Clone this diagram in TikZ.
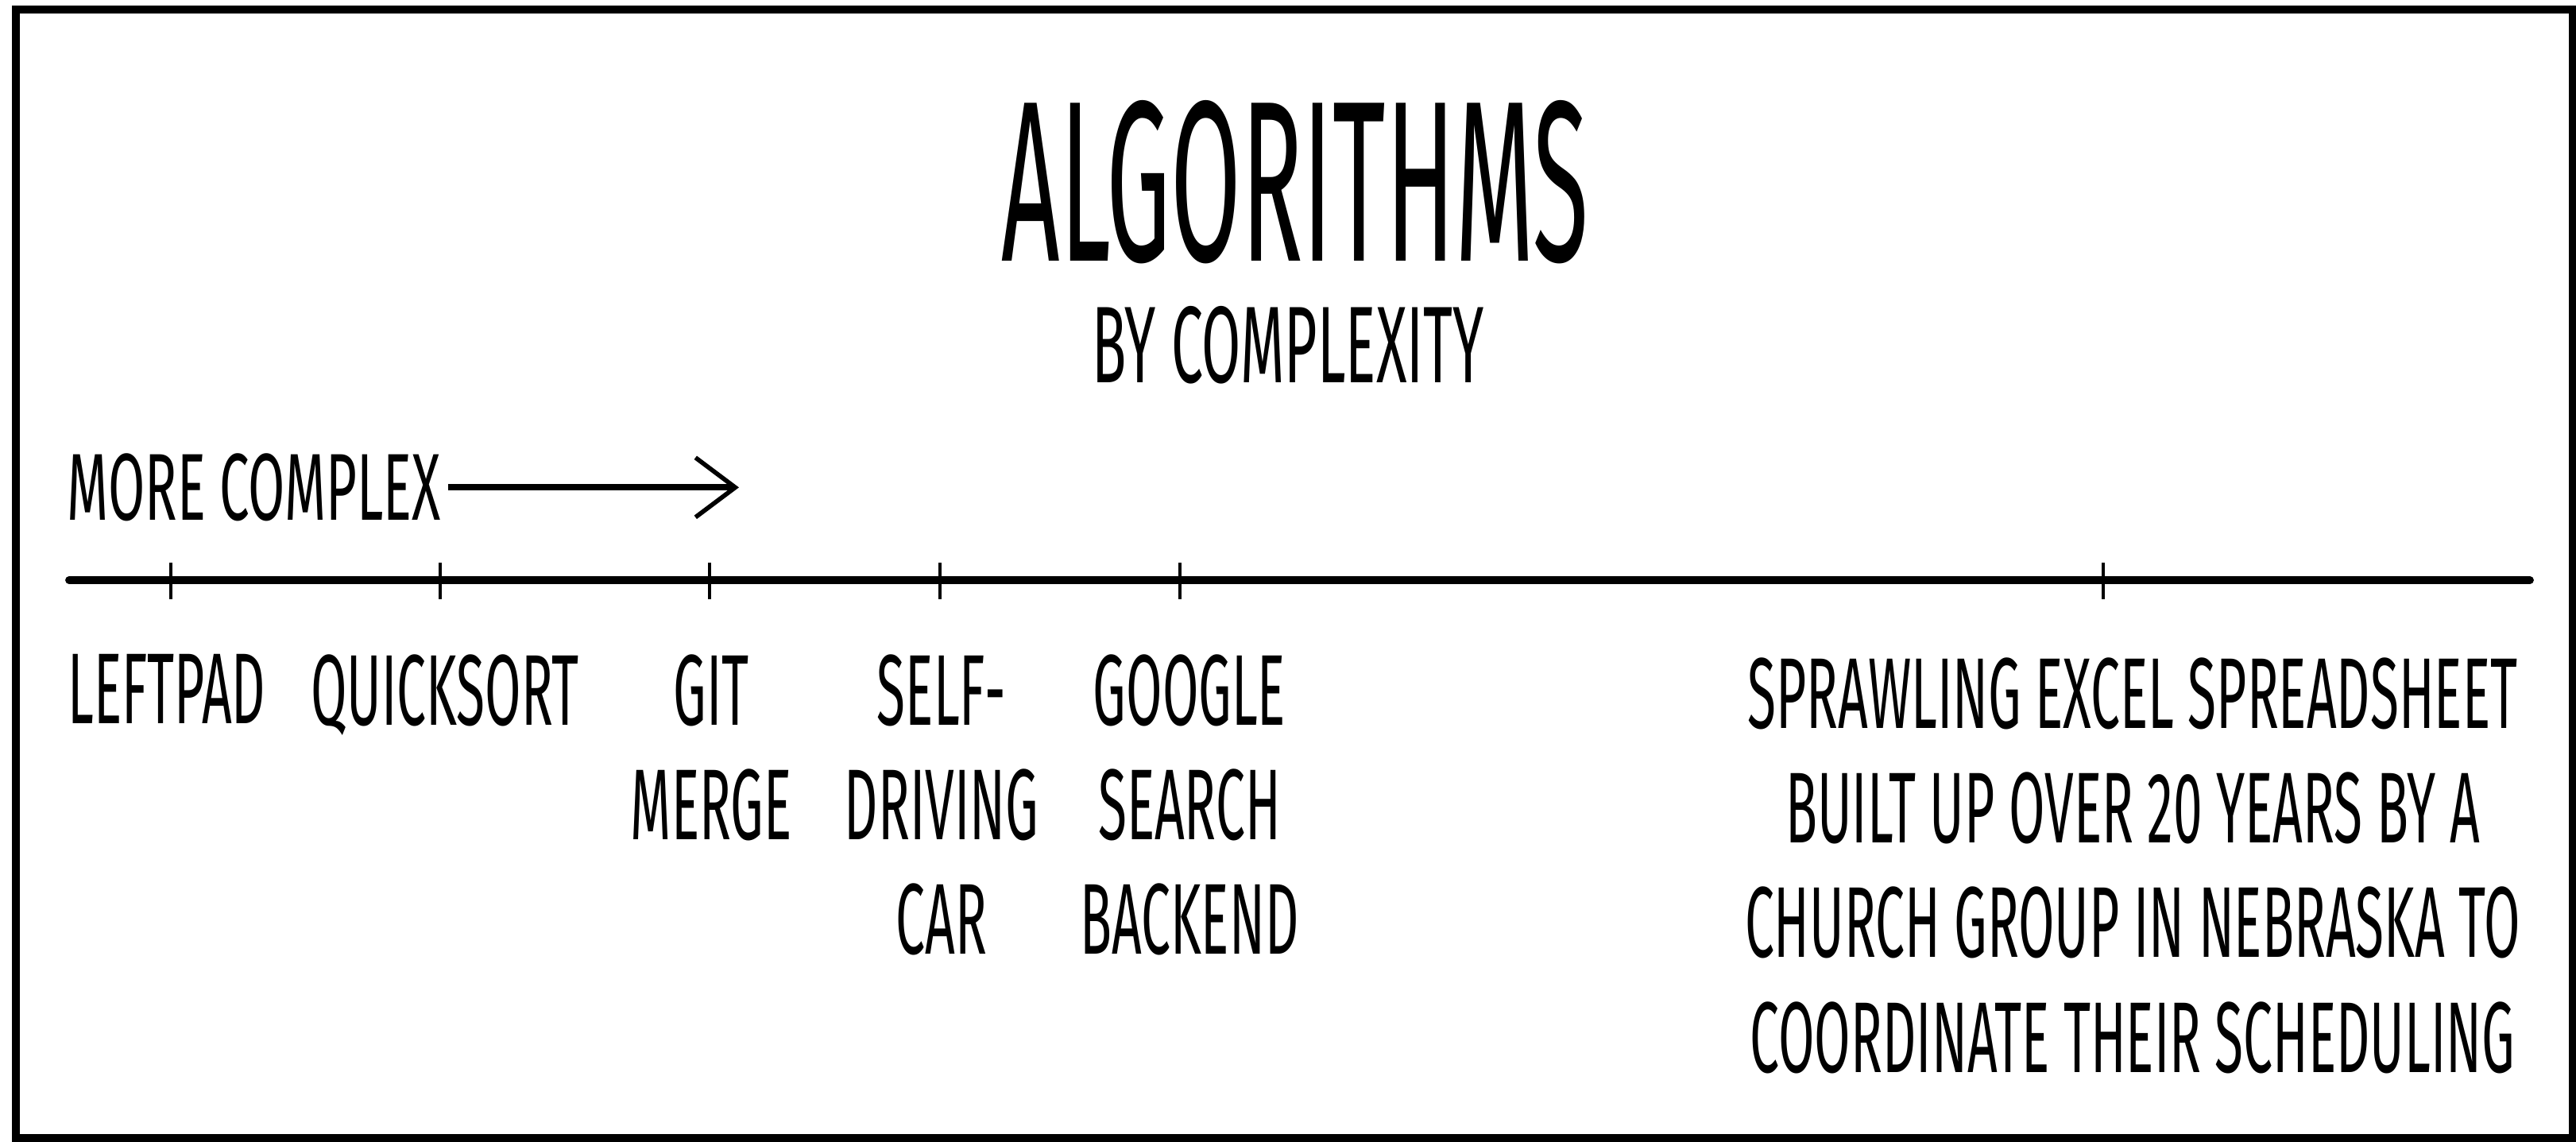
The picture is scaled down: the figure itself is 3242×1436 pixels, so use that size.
\documentclass[tikz,border=0pt]{standalone}
\usepackage{fontspec}
\newfontfamily\xk[FakeStretch=0.52]{Fira Sans}
\newfontfamily\xkt[FakeStretch=0.445]{Fira Sans}
\newfontfamily\xkm[FakeStretch=0.56]{Fira Sans}
\usetikzlibrary{arrows.meta}
\begin{document}
\begin{tikzpicture}[x=0.01cm,y=-0.01cm,
  lbl/.style={font=\xk\fontsize{36}{41}\selectfont, align=center, anchor=north, inner sep=0pt},
  tickline/.style={line width=1.2pt},
  axis/.style={line width=2.8pt, line cap=round},
  frame/.style={line width=2.6pt},
]
\useasboundingbox (0,0) rectangle (3242,1436);
\draw[frame] (20,12) rectangle (3238,1432);

% title
\node[font=\xkt\fontsize{82}{88}\selectfont, anchor=north, inner sep=0pt] (title) at (1630,126) {ALGORITHMS};
\node[font=\xk\fontsize{39}{44}\selectfont, anchor=north, inner sep=0pt] (sub) at (1621,385) {BY COMPLEXITY};

% direction arrow
\node[font=\xkm\fontsize{34}{40}\selectfont, anchor=north west, inner sep=0pt] (mc) at (84,570) {MORE COMPLEX};
\coordinate (arrowend) at (930,612);
\draw[line width=2.3pt, shorten <=2.5pt, -{Straight Barb[length=0.5cm, width=0.75cm, line width=1.6pt]}] (mc.east) -- (arrowend |- mc.east);

% timeline
\coordinate (L) at (87,730);
\coordinate (R) at (3184,730);
\draw[axis] (L) -- (R);
\foreach \n/\x in {t1/215, t2/554, t3/893, t4/1183, t5/1485, t6/2647}{
  \coordinate (\n) at (\x,730);
  \draw[tickline] (\n) ++(0,-22) -- ++(0,46);
}

% labels
\node[lbl] (leftpad) at (210,823) {LEFTPAD};
\node[lbl] (quicksort) at (560,823) {QUICKSORT};
\node[lbl] (git) at (895,823) {GIT\\MERGE};
\node[lbl] (sdc) at (1185,823) {SELF-\\DRIVING\\CAR};
\node[lbl] (google) at (1497,823) {GOOGLE\\SEARCH\\BACKEND};
\node[lbl] (excel) at (2684,827) {SPRAWLING EXCEL SPREADSHEET\\BUILT UP OVER 20 YEARS BY A\\CHURCH GROUP IN NEBRASKA TO\\COORDINATE THEIR SCHEDULING};
\end{tikzpicture}
\end{document}
